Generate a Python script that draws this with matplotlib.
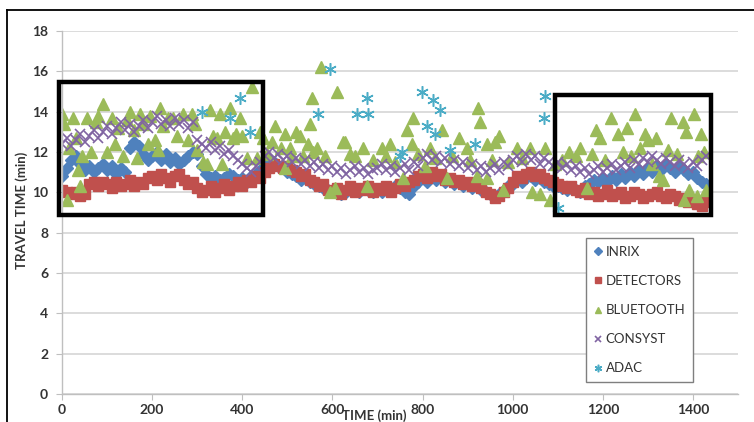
import numpy as np
import matplotlib
matplotlib.use("Agg")
import matplotlib.pyplot as plt
from matplotlib.patches import Rectangle
from matplotlib.lines import Line2D

plt.rcParams['font.family'] = ['Lato', 'DejaVu Sans']

# time axis (min) shared by the 10-minute series
time_10 = np.arange(0, 1440, 10)

inrix = [
    10.8, 11.2, 11.6, 11.8, 11.4, 11.1, 11.3, 11.0, 11.2, 11.4,
    11.1, 11.3, 10.9, 11.2, 11.0, 12.2, 12.5, 12.3, 11.9, 11.6,
    11.8, 12.0, 11.6, 11.9, 11.5, 11.7, 11.4, 11.6, 11.8, 12.0,
    11.9, 11.3, 10.9, 10.7, 10.8, 10.6, 10.7, 10.9, 10.8, 10.6,
    10.7, 10.5, 10.8, 10.9, 11.1, 11.4, 11.6, 11.5, 11.3, 11.2,
    11.0, 10.9, 10.8, 10.6, 10.7, 10.5, 10.4, 10.3, 10.2, 10.1,
    10.0, 10.1, 9.9, 10.0, 10.2, 10.1, 10.0, 10.2, 10.1, 10.0,
    10.1, 10.0, 10.2, 10.1, 10.3, 10.2, 10.0, 9.9, 10.3, 10.5,
    10.7, 10.5, 10.8, 10.6, 10.7, 10.5, 10.6, 10.4, 10.5, 10.3,
    10.4, 10.2, 10.3, 10.1, 10.0, 9.9, 9.8, 9.9, 10.1, 10.3,
    10.4, 10.6, 10.5, 10.7, 10.8, 10.6, 10.7, 10.5, 10.4, 10.3,
    10.3, 10.2, 10.1, 10.2, 10.1, 10.0, 10.3, 10.4, 10.6, 10.5,
    10.7, 10.5, 10.8, 10.6, 10.9, 10.7, 11.0, 10.8, 11.1, 10.9,
    11.2, 11.0, 11.3, 11.1, 11.4, 11.2, 11.0, 11.3, 11.1, 10.9,
    11.0, 10.7, 10.5, 10.4,
]

detectors = [
    10.1, 10.0, 9.9, 10.0, 9.8, 9.9, 10.4, 10.5, 10.3, 10.5,
    10.4, 10.2, 10.5, 10.3, 10.4, 10.6, 10.3, 10.5, 10.4, 10.7,
    10.8, 10.6, 10.9, 10.7, 10.5, 10.8, 10.9, 10.6, 10.4, 10.5,
    10.2, 10.0, 10.1, 10.3, 10.0, 10.2, 10.4, 10.1, 10.3, 10.5,
    10.3, 10.6, 10.5, 10.8, 10.7, 11.0, 11.2, 11.4, 11.3, 11.2,
    11.3, 11.1, 11.0, 10.8, 10.9, 10.6, 10.5, 10.3, 10.4, 10.1,
    10.0, 10.2, 9.9, 10.1, 10.3, 10.0, 10.2, 10.1, 10.3, 10.0,
    10.2, 10.1, 10.3, 10.0, 10.2, 10.4, 10.3, 10.5, 10.6, 10.8,
    10.9, 10.7, 11.0, 10.8, 10.9, 10.6, 10.7, 10.5, 10.6, 10.4,
    10.5, 10.3, 10.4, 10.2, 10.0, 9.9, 9.7, 9.8, 10.0, 10.2,
    10.5, 10.8, 10.7, 10.9, 11.0, 10.8, 10.9, 10.7, 10.6, 10.5,
    10.4, 10.3, 10.2, 10.3, 10.1, 10.0, 10.2, 9.9, 10.0, 9.8,
    9.9, 10.1, 9.8, 9.9, 10.0, 9.7, 9.8, 10.0, 9.9, 9.7,
    9.8, 9.9, 10.0, 9.8, 9.7, 9.9, 9.8, 9.6, 9.7, 9.5,
    9.6, 9.4, 9.3, 9.5,
]

consyst = [
    12.4, 12.7, 12.3, 12.6, 12.9, 12.5, 12.8, 13.1, 12.7, 13.0,
    13.3, 12.9, 13.2, 13.5, 13.1, 13.4, 13.0, 13.3, 13.6, 13.2,
    13.5, 13.8, 13.4, 13.6, 13.3, 13.7, 13.4, 13.6, 13.2, 13.5,
    12.6, 12.4, 12.2, 12.5, 12.1, 12.3, 11.9, 12.1, 11.8, 11.6,
    11.4, 11.2, 11.0, 11.3, 11.5, 11.8, 12.0, 11.7, 11.9, 11.6,
    11.8, 11.5, 11.7, 11.4, 11.6, 11.3, 11.5, 11.2, 11.4, 11.1,
    11.3, 11.0, 11.2, 10.9, 11.1, 11.3, 11.0, 11.2, 10.9, 11.1,
    11.2, 11.4, 11.1, 11.3, 11.0, 11.2, 11.4, 11.1, 11.5, 11.3,
    11.7, 11.9, 11.6, 11.8, 11.5, 11.7, 11.4, 11.6, 11.3, 11.5,
    11.2, 11.4, 11.1, 11.3, 11.0, 11.2, 11.4, 11.1, 11.5, 11.3,
    11.6, 11.8, 11.5, 11.9, 11.6, 11.8, 11.4, 11.7, 11.5, 11.3,
    11.5, 11.2, 11.4, 11.1, 11.3, 11.0, 11.2, 10.9, 11.1, 11.3,
    11.0, 11.2, 11.4, 11.1, 11.3, 11.5, 11.2, 11.6, 11.4, 11.7,
    11.5, 11.8, 11.6, 11.4, 11.7, 11.5, 11.3, 11.6, 11.4, 11.2,
    11.5, 11.3, 11.6, 11.8,
]

bt_time = [
    0, 5, 10, 15, 25, 30, 35, 40, 45, 55, 65, 75, 80, 90, 100, 110, 118, 125,
    135, 145, 150, 160, 166, 173, 180, 190, 195, 206, 212, 217, 225, 235, 246,
    255, 268, 279, 288, 295, 300, 313, 321, 328, 335, 345, 350, 355, 362, 372,
    379, 387, 395, 400, 410, 421, 432, 440, 446, 455, 466, 472, 485, 494, 494,
    505, 510, 520, 528, 534, 545, 550, 554, 556, 565, 574, 583, 594, 605, 610,
    623, 627, 640, 650, 667, 676, 690, 710, 720, 727, 740, 756, 765, 776, 778,
    790, 805, 816, 827, 843, 854, 865, 882, 898, 905, 920, 922, 927, 942, 942,
    955, 960, 970, 978, 990, 1009, 1020, 1038, 1044, 1060, 1071, 1082, 1095,
    1110, 1126, 1140, 1149, 1164, 1175, 1186, 1193, 1205, 1219, 1233, 1245,
    1253, 1262, 1271, 1283, 1293, 1300, 1310, 1319, 1325, 1333, 1345, 1352,
    1365, 1377, 1381, 1385, 1392, 1403, 1408, 1412, 1419, 1425, 1430,
]
bluetooth = [
    13.9, 13.4, 9.6, 12.2, 13.7, 12.7, 11.1, 10.3, 11.8, 13.7, 12.0, 13.5, 13.8, 14.4, 12.0, 13.7, 12.4, 13.2,
    11.8, 13.6, 14.0, 13.1, 11.7, 13.9, 13.4, 12.4, 13.8, 12.6, 12.1, 14.2, 13.3, 13.7, 13.7,
    12.8, 13.9, 12.6, 13.9, 13.4, 12.1, 11.5, 11.4, 14.1, 12.8, 12.7, 13.9, 11.4, 13.0, 14.2,
    12.7, 12.9, 13.7, 12.8, 11.7, 15.2, 11.7, 13.0, 12.7, 11.9, 12.5, 13.3, 12.2, 12.9, 11.2,
    12.2, 11.8, 13.0, 12.8, 11.8, 12.4, 13.4, 14.7, 12.0, 12.2, 16.2, 11.8, 10.0, 10.2, 15.0,
    12.5, 12.5, 11.9, 11.8, 12.2, 10.3, 11.6, 12.2, 11.8, 12.4, 11.5, 10.7, 13.1, 12.4, 13.7,
    11.9, 11.3, 12.2, 11.7, 13.1, 10.7, 11.8, 12.7, 12.2, 11.6, 10.8, 14.2, 13.5, 12.4, 10.7,
    11.6, 12.5, 12.8, 10.1, 11.5, 12.2, 11.7, 12.2, 10.0, 9.9, 12.2, 9.6, 11.4,
    11.6, 12.0, 11.8, 12.2, 10.2, 11.9, 13.1, 12.7, 11.6, 13.7, 12.9, 12.0,
    13.2, 11.8, 13.9, 12.2, 12.9, 12.6, 11.4, 12.7, 10.8, 10.6, 12.1, 13.7,
    11.9, 13.5, 9.6, 13.0, 10.1, 13.9, 9.8, 11.8, 12.9, 12.0, 10.1,
]

adac_time = [310, 372, 395, 417, 568, 594, 654, 676, 678, 749, 754, 798, 810,
             823, 827, 839, 860, 916, 1069, 1071, 1100]
adac = [14.0, 13.7, 14.7, 13.0, 13.9, 16.1, 13.9, 14.7, 13.9, 11.8, 12.0, 15.0, 13.3,
        14.6, 12.9, 14.1, 12.1, 12.4, 13.7, 14.8, 9.2]

# highlighted windows (x0, x1, y0, y1)
boxes = [(-7, 446, 8.88, 15.48), (1093, 1439, 8.88, 14.84)]

fig = plt.figure(figsize=(7.54, 4.22), dpi=100)
ax = fig.add_axes([62/754, 1-394/422, 676/754, 363/422])

ax.plot(time_10, inrix, ls='none', marker='D', ms=6.5, color='#4F81BD', mec='#4F81BD', label='INRIX')
ax.plot(time_10, detectors, ls='none', marker='s', ms=7, color='#C0504D', mec='#C0504D', label='DETECTORS')
ax.plot(bt_time, bluetooth, ls='none', marker='^', ms=8, color='#9BBB59', mec='#9BBB59', label='BLUETOOTH')
ax.plot(time_10, consyst, ls='none', marker='x', ms=7, mew=1.2, color='#8064A2', label='CONSYST')
ax.plot(adac_time, adac, ls='none', marker=(6, 2, 0), ms=9, mew=1.1, color='#4BACC6', label='ADAC')

for x0, x1, y0, y1 in boxes:
    ax.add_patch(Rectangle((x0, y0), x1 - x0, y1 - y0, fill=False, ec='black', lw=3.2,
                           clip_on=False, zorder=5))

ax.set_xlim(0, 1500)
ax.set_ylim(0, 18)
ax.set_xticks(range(0, 1401, 200))
ax.set_yticks(range(0, 19, 2))
ax.grid(axis='y', color='#d9d9d9', lw=1.3)
ax.set_axisbelow(True)
for s in ['top', 'right']:
    ax.spines[s].set_visible(False)
for s in ['left', 'bottom']:
    ax.spines[s].set_color('#bfbfbf')
    ax.spines[s].set_linewidth(1)
ax.tick_params(axis='x', direction='out', length=4, color='#bfbfbf', pad=3, labelsize=10, labelcolor='#333333')
ax.tick_params(axis='y', direction='out', length=4, color='#bfbfbf', pad=6, labelsize=10, labelcolor='#333333')
for lab in ax.get_xticklabels() + ax.get_yticklabels():
    lab.set_fontweight('bold')

fig.text(22/754, 1-210/422, 'TRAVEL TIME (min)', rotation=90, ha='center', va='center',
         fontsize=9.5, fontweight='bold', color='#333333')
fig.text(374/754, 1-409/422, 'TIME (min)', ha='center', va='top',
         fontsize=9.5, fontweight='bold', color='#333333')

leg = ax.legend(loc='upper left', bbox_to_anchor=(0.775, 0.43), borderaxespad=0,
                fontsize=9.5, handlelength=0.7, handletextpad=0.2, labelspacing=1.3,
                markerscale=0.6, fancybox=False, framealpha=1, borderpad=0.6)
leg.get_frame().set_edgecolor('#7f7f7f')
for t in leg.get_texts():
    t.set_color('#333333')

# outer frame of the screenshot
fig.add_artist(Line2D([7/754, 1], [1-10/422, 1-10/422], color='black', lw=1.3, transform=fig.transFigure))
fig.add_artist(Line2D([7/754, 7/754], [0, 1-10/422], color='black', lw=1.3, transform=fig.transFigure))

fig.savefig('out.png', dpi=100)
